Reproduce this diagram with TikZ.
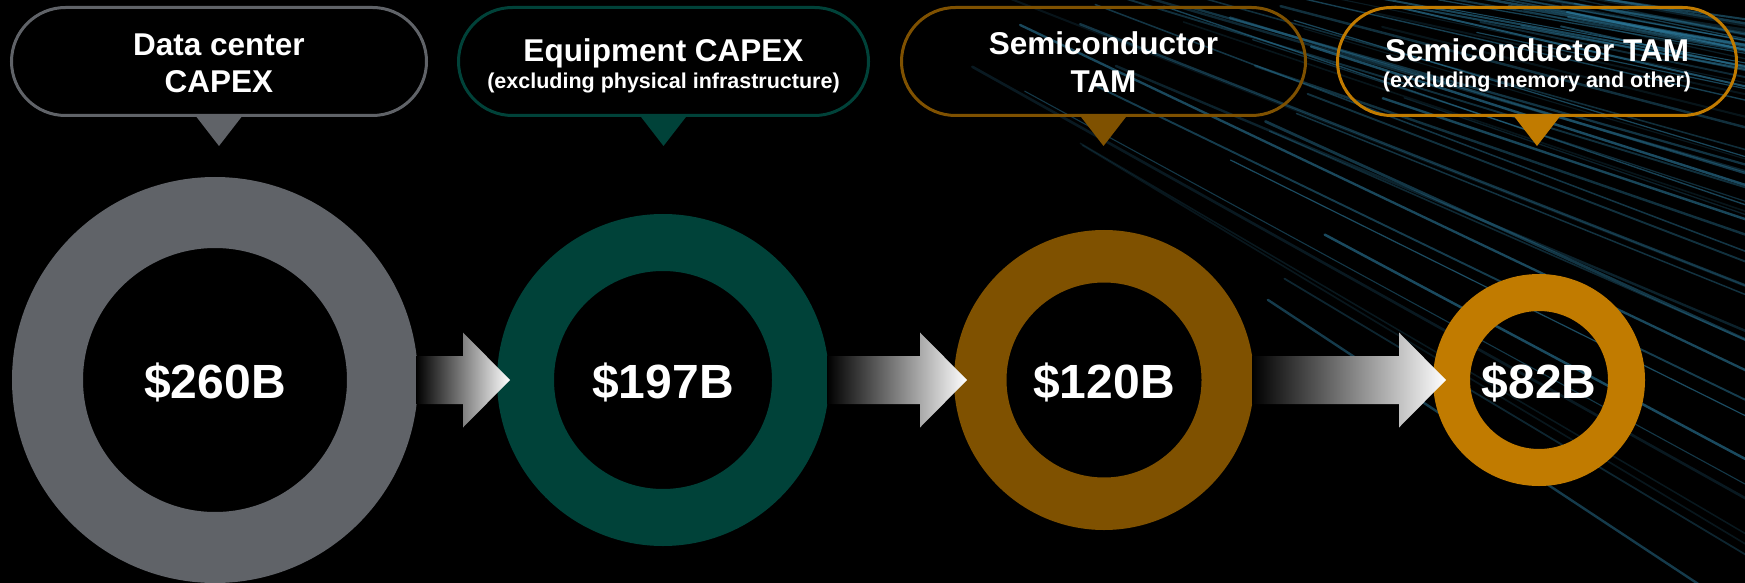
\documentclass[tikz,border=0pt]{standalone}
\usepackage{fontspec}
\setmainfont{Liberation Sans}
\usetikzlibrary{shapes.misc,calc}
\definecolor{cgrey}{RGB}{96,99,104}
\definecolor{cgreen}{RGB}{0,66,57}
\definecolor{cbrown}{RGB}{127,81,0}
\definecolor{corange}{RGB}{193,123,0}
\definecolor{streakcol}{RGB}{45,125,160}
\begin{document}
\begin{tikzpicture}[x=1pt,y=-1pt,
  callout/.style={rounded rectangle, draw, line width=3pt, minimum height=108pt, inner sep=0pt},
  ring/.style={circle, inner sep=0pt},
  lab/.style={text=white, font=\bfseries\fontsize{31.5}{36}\selectfont, anchor=base, inner sep=0pt},
  sublab/.style={text=white, font=\bfseries\fontsize{21.5}{24}\selectfont, anchor=base, inner sep=0pt},
  val/.style={text=white, font=\bfseries\fontsize{48}{52}\selectfont, anchor=base, inner sep=0pt},
  arrowshade/.style={left color=black, right color=white},
  streak/.style={color=streakcol, line cap=round}]
% background
\fill[black] (0,0) rectangle (1745,583);
\useasboundingbox (0,0) rectangle (1745,583);
% light streaks
\begin{scope}
\clip (0,0) rectangle (1745,583);
\pgfmathsetseed{21}
\foreach \i in {1,...,65}{
  \pgfmathsetmacro\t{rnd}
  \pgfmathsetmacro\sx{780+720*\t}
  \pgfmathsetmacro\ang{10+22*(1-\t)*(1-\t)+4*(rnd-0.5)}
  \pgfmathsetmacro\ey{-20+(1765-\sx)*tan(\ang)}
  \pgfmathsetmacro\f{0.55*rnd}
  \pgfmathsetmacro\ax{\sx+\f*(1765-\sx)}
  \pgfmathsetmacro\ay{-20+\f*(\ey+20)}
  \pgfmathsetmacro\op{0.15+0.5*rnd}
  \pgfmathsetmacro\w{1+1.8*rnd}
  \draw[streak, line width=\w pt, opacity=\op] (\ax,\ay) -- (1765,\ey);
}
\end{scope}
% rings
\node[ring, draw=cgrey, line width=71pt, minimum size=335pt] (r1) at (215,380) {};
\node[ring, draw=cgreen, line width=57pt, minimum size=275pt] (r2) at (663,380) {};
\node[ring, draw=cbrown, line width=52.5pt, minimum size=247.5pt] (r3) at (1104,380) {};
\node[ring, draw=corange, line width=37pt, minimum size=175pt] (r4) at (1539,380) {};
% values
\node[val] (v1) at (215,398) {\$260B};
\node[val] (v2) at (663,398) {\$197B};
\node[val] (v3) at (1104,398) {\$120B};
\node[val] (v4) at (1539,398) {\$82B};
% arrows between rings
\shade[arrowshade] let \p1=(r1.east), \p2=(r2.west) in
  (\x1-2pt,\y1+24pt) -- (\x2-34pt,\y1+24pt) -- (\x2-34pt,\y1+47.5pt) -- (\x2+13pt,\y1)
  -- (\x2-34pt,\y1-47.5pt) -- (\x2-34pt,\y1-24pt) -- (\x1-2pt,\y1-24pt) -- cycle;
\shade[arrowshade] let \p1=(r2.east), \p2=(r3.west) in
  (\x1-2pt,\y1+24pt) -- (\x2-34pt,\y1+24pt) -- (\x2-34pt,\y1+47.5pt) -- (\x2+13pt,\y1)
  -- (\x2-34pt,\y1-47.5pt) -- (\x2-34pt,\y1-24pt) -- (\x1-2pt,\y1-24pt) -- cycle;
\shade[arrowshade] let \p1=(r3.east), \p2=(r4.west) in
  (\x1-2pt,\y1+24pt) -- (\x2-34pt,\y1+24pt) -- (\x2-34pt,\y1+47.5pt) -- (\x2+13pt,\y1)
  -- (\x2-34pt,\y1-47.5pt) -- (\x2-34pt,\y1-24pt) -- (\x1-2pt,\y1-24pt) -- cycle;
% callouts
\node[callout, draw=cgrey, minimum width=415pt] (c1) at (219,61.5) {};
\node[callout, draw=cgreen, minimum width=410pt] (c2) at (663.5,61.5) {};
\node[callout, draw=cbrown, minimum width=404pt] (c3) at (1103.5,61.5) {};
\node[callout, draw=corange, minimum width=399pt] (c4) at (1537,61.5) {};
\fill[cgrey] ($(c1.south)+(-24,-2)$) -- ($(c1.south)+(24,-2)$) -- ($(c1.south)+(0,29)$) -- cycle;
\fill[cgreen] ($(c2.south)+(-24,-2)$) -- ($(c2.south)+(24,-2)$) -- ($(c2.south)+(0,29)$) -- cycle;
\fill[cbrown] ($(c3.south)+(-24,-2)$) -- ($(c3.south)+(24,-2)$) -- ($(c3.south)+(0,29)$) -- cycle;
\fill[corange] ($(c4.south)+(-24,-2)$) -- ($(c4.south)+(24,-2)$) -- ($(c4.south)+(0,29)$) -- cycle;
% callout texts
\node[lab] (t1a) at (219,56) {Data center};
\node[lab] (t1b) at (219,93) {CAPEX};
\node[lab] (t2a) at (663.5,62) {Equipment CAPEX};
\node[sublab] (t2b) at (663.5,89) {(excluding physical infrastructure)};
\node[lab] (t3a) at (1103.5,55) {Semiconductor};
\node[lab] (t3b) at (1103.5,93) {TAM};
\node[lab] (t4a) at (1537,62) {Semiconductor TAM};
\node[sublab] (t4b) at (1537,88) {(excluding memory and other)};
\end{tikzpicture}
\end{document}
